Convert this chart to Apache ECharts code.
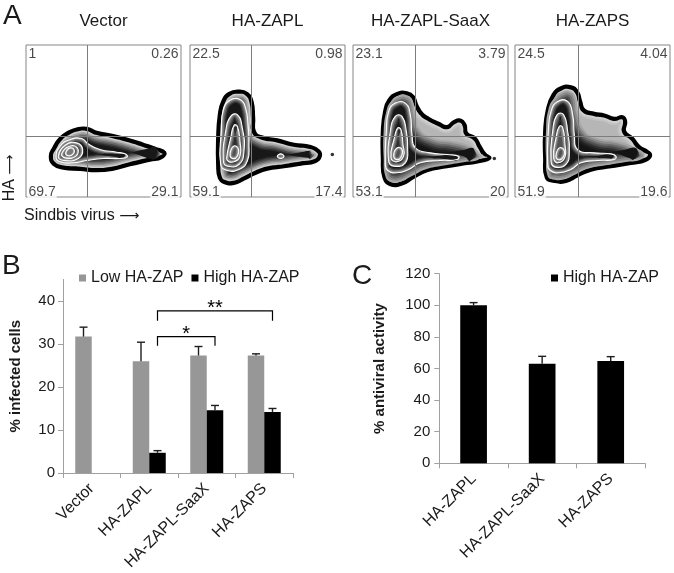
<!DOCTYPE html>
<html>
<head>
<meta charset="utf-8">
<script src="https://cdn.jsdelivr.net/npm/echarts@6/dist/echarts.min.js"></script>
<style>
html,body{margin:0;padding:0;background:#fff;}
#chart{width:674px;height:573px;}
</style>
</head>
<body>
<div id="chart"></div>
<script>
// ---------- Panel A : flow cytometry contour plots (channel units, x 0-465, y 0-458) ----------
const plotTitles = ['Vector', 'HA-ZAPL', 'HA-ZAPL-SaaX', 'HA-ZAPS'];
const quadVector = ['1', '0.26', '69.7', '29.1'];
const quadZapl = ['22.5', '0.98', '59.1', '17.4'];
const quadSaax = ['23.1', '3.79', '53.1', '20'];
const quadZaps = ['24.5', '4.04', '51.9', '19.6'];
const gateX = [185, 185, 187, 190];
const gateY = 182;

const vecOuter = [[72,123],[82,148],[102,178],[127,196],[152,206],[182,208],[212,196],[262,186],[312,173],[352,160],[387,148],[417,135],[407,118],[372,110],[312,96],[262,83],[212,78],[162,82],[112,86],[82,98]];
const vecRings = [
  [[90,120],[102,153],[132,173],[167,176],[187,160],[222,143],[272,135],[297,130],[304,121],[282,116],[232,116],[182,110],[142,103],[102,106]],
  [[97,123],[117,156],[152,163],[170,143],[157,116],[112,110]],
  [[107,130],[130,153],[154,148],[150,123],[117,118]],
  [[120,136],[132,148],[145,140],[137,126],[122,126]]
];
const vecDots = [];

const zaplOuter = [[87,58],[82,98],[82,178],[87,248],[97,288],[117,313],[147,320],[172,313],[187,288],[192,238],[194,198],[212,183],[262,173],[312,160],[362,153],[387,140],[392,123],[377,106],[332,98],[282,90],[232,83],[192,68],[162,53],[132,40],[102,43]];
const zaplRings = [
  [[92,98],[94,198],[100,263],[122,293],[152,293],[167,268],[174,218],[177,158],[172,108],[147,83],[112,80]],
  [[100,108],[107,198],[122,243],[142,248],[157,208],[162,138],[147,98],[112,93]],
  [[110,118],[122,178],[132,216],[142,213],[150,168],[150,123],[132,106],[114,108]],
  [[120,128],[130,153],[144,148],[142,123],[127,116]],
  [[262,123],[272,130],[282,123],[272,116]]
];
const zaplDots = [[427,128]];

const saaxOuter = [[92,58],[87,118],[87,198],[94,258],[107,293],[132,313],[162,315],[182,303],[192,278],[207,253],[227,238],[257,223],[282,213],[302,228],[322,233],[337,218],[342,193],[367,178],[382,153],[397,130],[412,118],[392,108],[342,100],[282,90],[222,78],[182,58],[147,38],[112,36]];
const saaxBody = [[97,63],[92,118],[92,198],[100,258],[114,288],[137,306],[162,306],[180,288],[187,248],[202,203],[242,178],[302,168],[352,153],[382,128],[377,113],[332,105],[272,95],[217,83],[177,63],[142,46],[112,46]];
const saaxRings = [
  [[97,98],[100,198],[107,258],[127,283],[157,283],[172,248],[177,188],[187,148],[232,133],[282,128],[317,123],[312,113],[262,110],[202,103],[167,83],[132,73],[104,80]],
  [[107,108],[112,198],[127,243],[147,243],[160,198],[164,148],[157,103],[122,93]],
  [[114,118],[124,178],[134,208],[144,203],[150,158],[152,123],[132,106]],
  [[122,126],[132,148],[147,143],[144,120],[130,113]]
];
const saaxDots = [[424,116]];

const zapsOuter = [[93,58],[88,118],[88,198],[96,263],[113,308],[138,330],[168,333],[188,318],[198,288],[208,263],[238,253],[268,248],[298,238],[323,243],[333,228],[330,198],[353,178],[373,153],[398,138],[408,126],[393,110],[348,100],[288,90],[228,80],[188,63],[153,46],[118,46]];
const zapsBody = [[98,63],[93,118],[93,198],[100,263],[118,298],[143,318],[168,318],[183,298],[190,253],[208,203],[248,178],[308,168],[358,150],[388,130],[378,113],[328,105],[268,95],[218,85],[178,66],[146,53],[113,53]];
const zapsRings = [
  [[98,98],[100,198],[108,258],[128,288],[158,288],[173,248],[178,188],[188,143],[238,133],[288,130],[303,123],[298,113],[248,110],[198,103],[168,83],[133,73],[106,80]],
  [[108,108],[113,198],[126,248],[146,248],[158,198],[163,138],[153,98],[120,90]],
  [[116,118],[123,178],[133,213],[143,210],[150,158],[150,120],[130,103]],
  [[123,126],[133,148],[148,140],[143,118],[128,113]]
];
const zapsDots = [];

// ---------- Panel B ----------
const bCats = ['Vector', 'HA-ZAPL', 'HA-ZAPL-SaaX', 'HA-ZAPS'];
const bLow = [31.7, 26.0, 27.3, 27.3];
const bLowSd = [2.2, 4.4, 2.1, 0.4];
const bHigh = ['-', 4.7, 14.6, 14.2];
const bHighSd = [null, 0.5, 1.1, 0.8];
const sigFrom = [1, 1];
const sigTo = [2, 3];
const sigTop = [31.7, 37.7];
const sigLeg = [29.6, 35.4];
const sigText = ['*', '**'];
const bTicks = [0, 10, 20, 30, 40];

// ---------- Panel C ----------
const cCats = ['HA-ZAPL', 'HA-ZAPL-SaaX', 'HA-ZAPS'];
const cHigh = [100, 63.0, 64.7];
const cSd = [1.7, 4.7, 2.8];

// ---------- rendering ----------
const FONT = '"Liberation Sans", Arial, Helvetica, sans-serif';
const TXT = '#1a1a1a';
const GRID_LEFTS = [26, 190, 353, 515];
const BAR_B = 16.5, BAR_C = 26.7;

function inset(pts, d) {
  if (!d) return pts;
  const n = pts.length;
  let s = 0;
  for (let i = 0; i < n; i++) {
    const a = pts[i], b = pts[(i + 1) % n];
    s += a[0] * b[1] - b[0] * a[1];
  }
  const sg = s > 0 ? 1 : -1;
  return pts.map((p, i) => {
    const a = pts[(i - 1 + n) % n], b = pts[(i + 1) % n];
    let tx = b[0] - a[0], ty = b[1] - a[1];
    const L = Math.hypot(tx, ty) || 1;
    tx /= L; ty /= L;
    return [p[0] + sg * (-ty) * d, p[1] + sg * tx * d];
  });
}
function minDim(pts) {
  const xs = pts.map(p => p[0]), ys = pts.map(p => p[1]);
  return Math.min(Math.max(...xs) - Math.min(...xs), Math.max(...ys) - Math.min(...ys));
}
const OUTER_FULL = [[3,'#cdcdcd'],[4.5,'#adadad'],[6,'#8a8a8a'],[7.5,'#686868'],[9,'#484848'],[10.5,'#2c2c2c'],[12,'#181818']];
const OUTER_LIGHT = [[3,'#d0d0d0'],[5,'#c2c2c2'],[7,'#b6b6b6']];
const BODY_STEPS = [[0,'#a6a6a6'],[2,'#8a8a8a'],[4,'#6c6c6c'],[6,'#4e4e4e'],[8,'#333'],[10,'#202020'],[12,'#141414']];
const RING_STEPS = [[0,'#a4a4a4'],[1.2,'#7a7a7a'],[2.4,'#525252'],[3.6,'#2e2e2e'],[4.8,'#171717']];

function makeContour(outer, body, rings) {
  return function (params, api) {
    const children = [];
    const toPx = pts => pts.map(p => api.coord(p));
    const poly = (pts, style) => ({ type: 'polygon', shape: { points: pts, smooth: 0.5 }, style: style });
    const o = toPx(outer);
    children.push(poly(o, { fill: '#000', stroke: '#000', lineWidth: 2.5 }));
    (body ? OUTER_LIGHT : OUTER_FULL).forEach(([d, c]) => children.push(poly(inset(o, d), { fill: c })));
    if (body) {
      const b = toPx(body);
      BODY_STEPS.forEach(([d, c]) => children.push(poly(inset(b, d), { fill: c })));
    }
    rings.forEach(r => {
      const p = toPx(r);
      const sz = minDim(p);
      RING_STEPS.forEach(([d, c]) => { if (d <= sz * 0.3) children.push(poly(inset(p, d), { fill: c })); });
      children.push(poly(p, { fill: 'none', stroke: '#fff', lineWidth: 1.1 }));
    });
    return { type: 'group', children: children };
  };
}

const contourDefs = [
  [vecOuter, null, vecRings, vecDots, quadVector],
  [zaplOuter, null, zaplRings, zaplDots, quadZapl],
  [saaxOuter, saaxBody, saaxRings, saaxDots, quadSaax],
  [zapsOuter, zapsBody, zapsRings, zapsDots, quadZaps]
];

const grids = [], xAxes = [], yAxes = [], series = [];
contourDefs.forEach((def, i) => {
  grids.push({ left: GRID_LEFTS[i], top: 45, width: 155, height: 152, show: true, borderColor: '#858585', borderWidth: 1, backgroundColor: '#fff' });
  xAxes.push({ gridIndex: i, type: 'value', min: 0, max: 465, show: false });
  yAxes.push({ gridIndex: i, type: 'value', min: 0, max: 458, show: false });
  series.push({
    type: 'custom', xAxisIndex: i, yAxisIndex: i, data: [0], silent: true, animation: false,
    renderItem: makeContour(def[0], def[1], def[2]),
    markLine: {
      silent: true, symbol: 'none', animation: false, label: { show: false },
      lineStyle: { color: '#7d7d7d', width: 1, type: 'solid' },
      data: [{ xAxis: gateX[i] }, { yAxis: gateY }]
    }
  });
  if (def[3].length) {
    series.push({ type: 'scatter', xAxisIndex: i, yAxisIndex: i, data: def[3], symbolSize: 3.5, itemStyle: { color: '#000' }, silent: true, animation: false });
  }
  const q = def[4];
  const lab = (txt, pos, align, va) => ({ show: true, formatter: txt, position: pos, align: align, verticalAlign: va, fontSize: 14, fontFamily: FONT, color: TXT, backgroundColor: '#fff', padding: [0, 1] });
  series.push({
    type: 'scatter', xAxisIndex: i, yAxisIndex: i, symbolSize: 1, itemStyle: { color: 'rgba(0,0,0,0)' }, silent: true, animation: false, z: 10,
    data: [
      { value: [0, 458], label: lab(q[0], [2, 3], 'left', 'top') },
      { value: [465, 458], label: lab(q[1], [-1, 3], 'right', 'top') },
      { value: [0, 0], label: lab(q[2], [2, 3], 'left', 'bottom') },
      { value: [465, 0], label: lab(q[3], [-1, 3], 'right', 'bottom') }
    ]
  });
});

// Panel B grid (index 4)
grids.push({ left: 63, top: 279.4, width: 230, height: 194.6 });
xAxes.push({
  gridIndex: 4, type: 'category', data: bCats,
  axisLine: { lineStyle: { color: '#a0a0a0' } },
  axisTick: { show: true, length: 5, lineStyle: { color: '#a0a0a0' } },
  axisLabel: { rotate: 45, fontSize: 16, fontFamily: FONT, color: TXT, margin: 13, interval: 0 }
});
yAxes.push({
  gridIndex: 4, type: 'value', min: 0, max: 45, interval: 10,
  axisLine: { show: true, lineStyle: { color: '#a0a0a0' } },
  axisTick: { show: true, length: 5, customValues: bTicks, lineStyle: { color: '#a0a0a0' } },
  axisLabel: { fontSize: 15, fontFamily: FONT, color: TXT, margin: 8, customValues: bTicks },
  splitLine: { show: false },
  name: '% infected cells', nameLocation: 'middle', nameGap: 40,
  nameTextStyle: { fontSize: 15, fontWeight: 'bold', fontFamily: FONT, color: TXT }
});
series.push({ type: 'bar', name: 'Low HA-ZAP', xAxisIndex: 4, yAxisIndex: 4, data: bLow, barWidth: BAR_B, barGap: '0%', itemStyle: { color: '#979797' }, animation: false });
series.push({ type: 'bar', name: 'High HA-ZAP', xAxisIndex: 4, yAxisIndex: 4, data: bHigh, barWidth: BAR_B, barGap: '0%', itemStyle: { color: '#000' }, animation: false });

function errRender(barW) {
  return function (params, api) {
    const base = api.coord([api.value(0), api.value(1)]);
    const top = api.coord([api.value(0), api.value(2)]);
    const x = base[0] + api.value(3) * barW / 2;
    const st = { stroke: '#1e1e1e', lineWidth: 1.4 };
    return {
      type: 'group', children: [
        { type: 'line', shape: { x1: x, y1: base[1], x2: x, y2: top[1] }, style: st },
        { type: 'line', shape: { x1: x - 4, y1: top[1], x2: x + 4, y2: top[1] }, style: st }
      ]
    };
  };
}
const bErrData = [];
bLow.forEach((v, i) => bErrData.push([i, v, v + bLowSd[i], -1]));
bHigh.forEach((v, i) => { if (v !== '-') bErrData.push([i, v, v + bHighSd[i], 1]); });
series.push({ type: 'custom', xAxisIndex: 4, yAxisIndex: 4, data: bErrData, renderItem: errRender(BAR_B), silent: true, animation: false, z: 5 });

series.push({
  type: 'custom', xAxisIndex: 4, yAxisIndex: 4, silent: true, animation: false, z: 5,
  data: sigFrom.map((f, i) => [f, sigTo[i], sigTop[i], sigLeg[i], i]),
  renderItem: function (params, api) {
    const x1 = api.coord([api.value(0), 0])[0] + BAR_B / 2;
    const x2 = api.coord([api.value(1), 0])[0] + BAR_B / 2;
    const yT = api.coord([0, api.value(2)])[1];
    const yL = api.coord([0, api.value(3)])[1];
    return {
      type: 'group', children: [
        { type: 'polyline', shape: { points: [[x1, yL], [x1, yT], [x2, yT], [x2, yL]] }, style: { stroke: '#000', lineWidth: 1.2, fill: 'none' } },
        { type: 'text', x: (x1 + x2) / 2, y: yT + 8, style: { text: sigText[api.value(4)], align: 'center', verticalAlign: 'bottom', font: '20px ' + FONT, fill: '#000' } }
      ]
    };
  }
});

// Panel C grid (index 5)
grids.push({ left: 439.3, top: 273.7, width: 205.7, height: 189.6 });
xAxes.push({
  gridIndex: 5, type: 'category', data: cCats,
  axisLine: { lineStyle: { color: '#a0a0a0' } },
  axisTick: { show: true, length: 5, lineStyle: { color: '#a0a0a0' } },
  axisLabel: { rotate: 45, fontSize: 16, fontFamily: FONT, color: TXT, margin: 13, interval: 0 }
});
yAxes.push({
  gridIndex: 5, type: 'value', min: 0, max: 120, interval: 20,
  axisLine: { show: true, lineStyle: { color: '#a0a0a0' } },
  axisTick: { show: true, length: 5, lineStyle: { color: '#a0a0a0' } },
  axisLabel: { fontSize: 15, fontFamily: FONT, color: TXT, margin: 9 },
  splitLine: { show: false },
  name: '% antiviral activity', nameLocation: 'middle', nameGap: 52,
  nameTextStyle: { fontSize: 15, fontWeight: 'bold', fontFamily: FONT, color: TXT }
});
series.push({ type: 'bar', name: 'High HA-ZAP', xAxisIndex: 5, yAxisIndex: 5, data: cHigh, barWidth: BAR_C, itemStyle: { color: '#000' }, animation: false });
series.push({ type: 'custom', xAxisIndex: 5, yAxisIndex: 5, data: cHigh.map((v, i) => [i, v, v + cSd[i], 0]), renderItem: errRender(BAR_C), silent: true, animation: false, z: 5 });

const titleStyle = (size) => ({ fontSize: size, fontWeight: 'normal', fontFamily: FONT, color: TXT });
const arrowRich = { arr: { fontFamily: '"DejaVu Sans"', fontSize: 14, color: TXT } };
const titles = [
  { text: 'A', left: 3, top: 2, padding: 0, textStyle: titleStyle(28) },
  { text: 'B', left: 2, top: 252, padding: 0, textStyle: titleStyle(28) },
  { text: 'C', left: 352, top: 262, padding: 0, textStyle: titleStyle(28) },
  { text: 'Sindbis virus {arr|⟶}', left: 24, top: 208, padding: 0, textStyle: Object.assign(titleStyle(16), { rich: arrowRich }) }
];
plotTitles.forEach((t, i) => titles.push({ text: t, left: GRID_LEFTS[i] + 77.5, top: 13, padding: 0, textAlign: 'center', textStyle: titleStyle(17) }));

const chart = echarts.init(document.getElementById('chart'), null, { renderer: 'canvas' });
chart.setOption({
  animation: false,
  backgroundColor: '#fff',
  title: titles,
  legend: [
    { data: ['Low HA-ZAP', 'High HA-ZAP'], left: 79, top: 270, padding: 0, itemWidth: 7, itemHeight: 7, itemGap: 8, icon: 'rect', textStyle: { fontSize: 16, fontFamily: FONT, color: TXT }, selectedMode: false },
    { data: ['High HA-ZAP'], left: 551, top: 270, padding: 0, itemWidth: 7, itemHeight: 7, icon: 'rect', textStyle: { fontSize: 16, fontFamily: FONT, color: TXT }, selectedMode: false }
  ],
  graphic: [
    { type: 'text', x: 10, y: 178, rotation: Math.PI / 2, style: { text: 'HA {arr|⟶}', font: '16px ' + FONT, fill: TXT, align: 'center', verticalAlign: 'middle', rich: arrowRich } }
  ],
  grid: grids,
  xAxis: xAxes,
  yAxis: yAxes,
  series: series
});
</script>
</body>
</html>
